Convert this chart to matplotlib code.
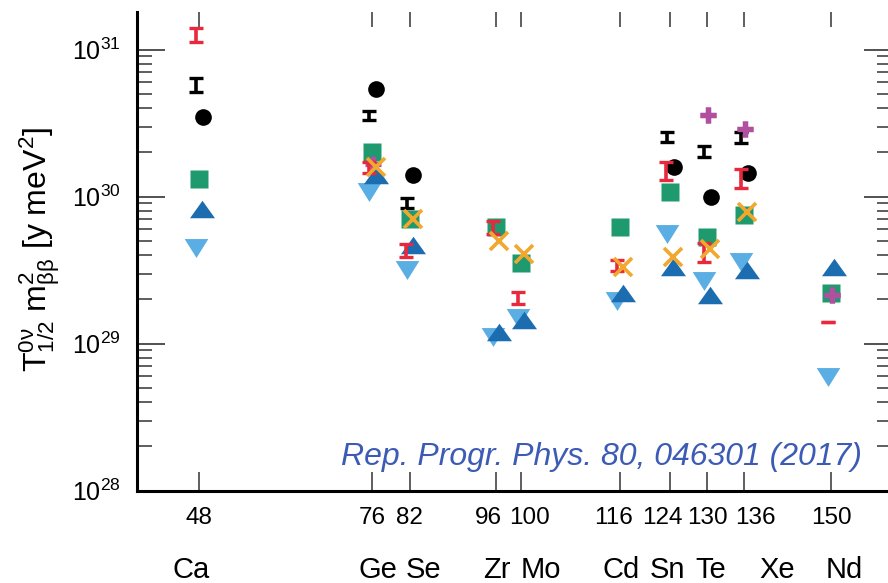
import numpy as np
import matplotlib
matplotlib.use("Agg")
import matplotlib.pyplot as plt
from matplotlib.ticker import FixedLocator, LogLocator, NullFormatter, FuncFormatter
from matplotlib.transforms import ScaledTranslation

plt.rcParams["font.family"] = ["Liberation Sans", "DejaVu Sans"]
plt.rcParams["mathtext.fontset"] = "custom"
plt.rcParams["mathtext.rm"] = "Liberation Sans"
plt.rcParams["mathtext.it"] = "Liberation Sans:italic"

nan = np.nan
masses = [48, 76, 82, 96, 100, 116, 124, 130, 136, 150]
elements = ["Ca", "Ge", "Se", "Zr", "Mo", "Cd", "Sn", "Te", "Xe", "Nd"]

# T1/2 * m_bb^2 [y meV^2] per isotope, nan = no entry
black_bar = [5.75e30, 3.59e30, 9.1e29, nan, nan, nan, 2.54e30, 2.02e30, 2.54e30, nan]
black_bar_hw = [0.045, 0.03, 0.035, 0, 0, 0, 0.033, 0.037, 0.037, 0]   # half height in decades
red_bar = [1.26e31, 1.58e30, 4.3e29, 6.2e29, 2.05e29, 3.4e29, 1.5e30, 4.2e29, 1.33e30, 1.4e29]
red_bar_hw = [0.045, 0.035, 0.045, 0.045, 0.04, 0.035, 0.06, 0.065, 0.065, 0.0]
circle = [3.47e30, 5.37e30, 1.41e30, nan, nan, nan, 1.58e30, 1.0e30, 1.45e30, nan]
square = [1.32e30, 2.0e30, 7.1e29, 6.2e29, 3.55e29, 6.2e29, 1.07e30, 5.3e29, 7.5e29, 2.2e29]
tri_up = [8.3e29, 1.41e30, 4.7e29, 1.2e29, 1.45e29, 2.2e29, 3.31e29, 2.16e29, 3.16e29, 3.31e29]
tri_down = [4.47e29, 1.07e30, 3.16e29, 1.11e29, 1.5e29, 1.95e29, 5.56e29, 2.66e29, 3.59e29, 5.9e28]
cross = [nan, 1.58e30, 7.1e29, 5.0e29, 4.1e29, 3.3e29, 3.9e29, 4.4e29, 7.9e29, nan]
plus = [nan, 1.66e30, nan, nan, nan, nan, nan, 3.59e30, 2.9e30, 2.14e29]

ref_text = "Rep. Progr. Phys. 80, 046301 (2017)"

fig = plt.figure(figsize=(8.88, 5.83), dpi=100)
W, H = 888, 583
x0, x1, ybot, ytop = 137, 892, 490.7, 12
ax = fig.add_axes([x0 / W, (H - ybot) / H, (x1 - x0) / W, (ybot - ytop) / H])

m = np.array(masses, dtype=float)

def pts(vals):
    return np.array(vals, dtype=float)

up_tri = [(-1, -0.7), (1, -0.7), (0, 0.7)]
dn_tri = [(-1, 0.8), (1, 0.8), (0, -0.8)]

ax.plot(m - 0.5, pts(tri_down), ls="none", marker=dn_tri, ms=17,
        color="#5aaee3", mec="none", zorder=2)
ax.plot(m + 0.6, pts(circle), ls="none", marker="o", ms=12,
        color="black", mec="none", zorder=3)
ax.plot(m, pts(square), ls="none", marker="s", ms=12.5,
        color="#1e9a6e", mec="none", zorder=3)
# the plus at Ge sits mostly under the other marks
ax.plot(m + 0.1, pts(plus), ls="none", marker="+", ms=12, mew=3.8,
        color="#b0509e", zorder=3.5)
ax.plot(m + 0.5, pts(tri_up), ls="none", marker=up_tri, ms=18,
        color="#1c6db0", mec="none", zorder=4)

for vals, hw, col, dx in [(black_bar, black_bar_hw, "black", -0.5),
                          (red_bar, red_bar_hw, "#e8283c", -0.55)]:
    v = pts(vals)
    h = np.array(hw)
    ok = ~np.isnan(v)
    lo = v - v / 10 ** h
    hi = v * 10 ** h - v
    ax.errorbar(m[ok] + dx, v[ok], yerr=[lo[ok], hi[ok]], fmt="none",
                ecolor=col, elinewidth=2.6, capsize=5, capthick=2.4, zorder=5)

ax.plot(m + 0.5, pts(cross), ls="none", marker="x", ms=12.5, mew=2.6,
        color="#f2a72e", zorder=6)
# plus marks drawn again on top, except the Ge one
plus_top = pts(plus)
plus_top[1] = nan
ax.plot(m + 0.1, plus_top, ls="none", marker="+", ms=12, mew=3.8,
        color="#b0509e", zorder=7)

ax.set_yscale("log")
ax.set_ylim(1e28, 10 ** (28 + (ybot - ytop) / 147.0))
ax.set_xlim(38.0, 150 + (x1 - 831) / 6.196)

# spines
for s in ["left", "bottom"]:
    ax.spines[s].set_linewidth(2.2)
ax.spines["top"].set_visible(False)
ax.spines["right"].set_linewidth(2.2)

# y ticks
ax.yaxis.set_major_locator(FixedLocator([1e28, 1e29, 1e30, 1e31]))
ax.yaxis.set_minor_locator(LogLocator(base=10, subs=np.arange(2, 10), numticks=20))
ax.yaxis.set_minor_formatter(NullFormatter())
ax.yaxis.set_major_formatter(FuncFormatter(
    lambda v, p: r"$\mathregular{10^{%d}}$" % round(np.log10(v))))
ax.tick_params(axis="y", which="major", direction="in", length=20, width=1.1,
               labelsize=18, pad=12, right=True, color="#222222")
ax.tick_params(axis="y", which="minor", direction="in", length=11, width=1.1,
               right=True, color="#333333")

# x ticks
ax.set_xticks(masses)
ax.set_xticklabels([str(v) for v in masses])
ax.tick_params(axis="x", which="major", direction="in", length=14, width=1.1,
               labelsize=17.5, pad=11.5, color="#333333")
ax.tick_params(axis="x", which="minor", bottom=False, top=False)
label_shift = [0, 0, 0, -8, 8, -7, -8, 0, 11, 0]
for lbl, dx in zip(ax.get_xticklabels(), label_shift):
    lbl.set_transform(lbl.get_transform() + ScaledTranslation(dx / 100, 0, fig.dpi_scale_trans))

# top ticks
top = ax.secondary_xaxis("top")
top.set_xticks(masses)
top.tick_params(direction="in", length=11, width=1.1, labeltop=False, color="#333333")
top.spines["top"].set_visible(False)

# element names
elem_shift = [-8, 5, 14, 0, 20, 1, -2, 4, 33, 13]
for mm, el, dx in zip(masses, elements, elem_shift):
    ax.annotate(el, xy=(mm, 0), xycoords=("data", "axes fraction"),
                xytext=(dx * 0.72, -79 * 0.72), textcoords="offset points",
                ha="center", va="center", fontsize=21, annotation_clip=False)

ax.set_ylabel(r"$\mathrm{T^{0\nu}_{1/2}\ m^{2}_{\beta\beta}}$ [y meV$^{\mathrm{2}}$]",
              fontsize=23)
ax.yaxis.set_label_coords((62 - x0) / (x1 - x0), (ybot - 250) / (ybot - ytop))

fig.text(862 / W, 1 - 457 / H, ref_text, ha="right", va="center",
         fontsize=23, style="italic", color="#3b5bb5")

fig.savefig("out.png", dpi=100)
